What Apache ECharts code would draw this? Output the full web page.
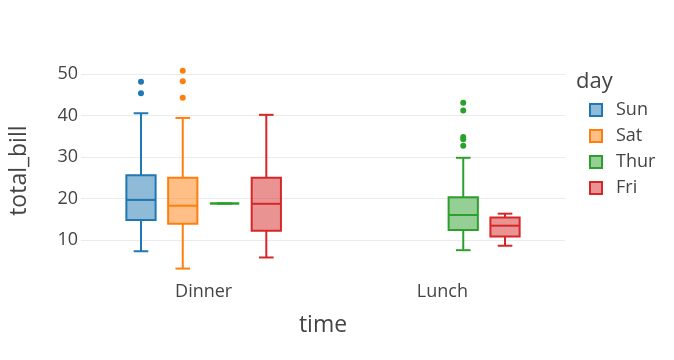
<!DOCTYPE html>
<html>
<head>
<meta charset="utf-8">
<script src="https://cdn.jsdelivr.net/npm/echarts@6/dist/echarts.min.js"></script>
<style>
html,body{margin:0;padding:0;background:#fff;}
#chart{width:674px;height:360px;}
</style>
</head>
<body>
<div id="chart"></div>
<script>
// ---- data ----
const categories = ['Dinner', 'Lunch'];
const days = ['Sun', 'Sat', 'Thur', 'Fri'];
const dayColors = ['#1f77b4', '#ff7f0e', '#2ca02c', '#d62728'];
const dayFills = ['rgba(31,119,180,0.5)', 'rgba(255,127,14,0.5)', 'rgba(44,160,44,0.5)', 'rgba(214,39,40,0.5)'];
// box stats per category: [min, q1, median, q3, max] (null = no data)
const sunBoxes = [[7.25, 14.8, 19.63, 25.6, 40.55], null];
const satBoxes = [[3.07, 13.9, 18.24, 25.0, 39.42], null];
const thurBoxes = [[18.78, 18.78, 18.78, 18.78, 18.78], [7.51, 12.4, 16.0, 20.3, 29.8]];
const friBoxes = [[5.75, 12.2, 18.7, 25.0, 40.17], [8.58, 10.8, 13.42, 15.4, 16.32]];
// outliers per category
const sunOutliers = [[48.17, 45.35], []];
const satOutliers = [[50.81, 48.27, 44.3], []];
const thurOutliers = [[], [43.11, 41.19, 34.83, 34.3, 32.68]];
const friOutliers = [[], []];
const yTicks = [10, 20, 30, 40, 50];

const allBoxes = [sunBoxes, satBoxes, thurBoxes, friBoxes];
const allOutliers = [sunOutliers, satOutliers, thurOutliers, friOutliers];

const FONT = 'Open Sans';
const TXT = '#444';
const nGroups = days.length;
const catPad = 0.0138; // extra range beyond the category bands

function slotInfo(api, di) {
  const band = api.size([1, 0])[0];
  const slot = band * 0.7 / nGroups;
  return { slot: slot, bw: slot * 0.7, off: (di - (nGroups - 1) / 2) * slot };
}

function boxRender(di) {
  return function (params, api) {
    const ci = api.value(0);
    const s = slotInfo(api, di);
    const cx = api.coord([ci, 0])[0] + s.off;
    const y = [1, 2, 3, 4, 5].map(k => api.coord([ci, api.value(k)])[1]);
    const half = s.bw / 2, cap = s.bw / 4;
    const ls = { stroke: dayColors[di], lineWidth: 2, fill: null };
    return {
      type: 'group',
      children: [
        { type: 'line', shape: { x1: cx, y1: y[1], x2: cx, y2: y[0] }, style: ls },
        { type: 'line', shape: { x1: cx, y1: y[3], x2: cx, y2: y[4] }, style: ls },
        { type: 'line', shape: { x1: cx - cap, y1: y[0], x2: cx + cap, y2: y[0] }, style: ls },
        { type: 'line', shape: { x1: cx - cap, y1: y[4], x2: cx + cap, y2: y[4] }, style: ls },
        { type: 'rect', shape: { x: cx - half, y: y[3], width: s.bw, height: y[1] - y[3] },
          style: { fill: dayFills[di], stroke: dayColors[di], lineWidth: 2 } },
        { type: 'line', shape: { x1: cx - half, y1: y[2], x2: cx + half, y2: y[2] }, style: ls }
      ]
    };
  };
}

function outlierRender(di) {
  return function (params, api) {
    const ci = api.value(0);
    const s = slotInfo(api, di);
    const p = api.coord([ci, api.value(1)]);
    return { type: 'circle', shape: { cx: p[0] + s.off, cy: p[1], r: 3 }, style: { fill: dayColors[di] } };
  };
}

const series = [];
days.forEach(function (d, di) {
  const boxData = [];
  allBoxes[di].forEach(function (b, ci) { if (b) boxData.push([ci].concat(b)); });
  const outData = [];
  allOutliers[di].forEach(function (arr, ci) { arr.forEach(function (v) { outData.push([ci, v]); }); });
  series.push({
    name: d, type: 'custom', renderItem: boxRender(di), data: boxData,
    encode: { x: 0, y: [1, 2, 3, 4, 5] }, itemStyle: { color: dayColors[di] }, z: 3
  });
  series.push({
    name: d, type: 'custom', renderItem: outlierRender(di), data: outData,
    encode: { x: 0, y: 1 }, itemStyle: { color: dayColors[di] }, z: 4
  });
});

const catIdx = categories.map(function (c, i) { return i; });

const chart = echarts.init(document.getElementById('chart'), null, { renderer: 'canvas' });
chart.setOption({
  animation: false,
  backgroundColor: '#fff',
  textStyle: { fontFamily: FONT, color: TXT },
  title: {
    text: 'day', left: 576, top: 71, padding: 0,
    textStyle: { fontFamily: FONT, fontSize: 22, fontWeight: 'normal', color: TXT }
  },
  legend: {
    orient: 'vertical', left: 589, top: 100, padding: 0, itemWidth: 12, itemHeight: 12, itemGap: 6,
    textStyle: { fontFamily: FONT, fontSize: 18, color: TXT, lineHeight: 20, padding: [0, 0, 0, 9] },
    data: days.map(function (d, i) {
      return { name: d, icon: 'rect', itemStyle: { color: dayFills[i], borderColor: dayColors[i], borderWidth: 2 } };
    })
  },
  grid: { left: 80, right: 109, top: 60, height: 221.3, containLabel: false },
  xAxis: {
    type: 'value', min: -0.5 - catPad, max: categories.length - 0.5 + catPad,
    axisLine: { show: false }, axisTick: { show: false }, splitLine: { show: false },
    axisLabel: {
      customValues: catIdx,
      fontFamily: FONT, fontSize: 18, color: TXT, margin: 2,
      formatter: function (v) { return categories[Math.round(v)] || ''; }
    },
    name: 'time', nameLocation: 'middle', nameGap: 33,
    nameTextStyle: { fontFamily: FONT, fontSize: 23, color: TXT }
  },
  yAxis: {
    type: 'value', min: 0, max: 53.4, interval: 10,
    axisLine: { show: false }, axisTick: { show: false },
    axisLabel: {
      fontFamily: FONT, fontSize: 18, color: TXT, margin: 3, showMinLabel: false, showMaxLabel: false,
      formatter: function (v) { return yTicks.indexOf(v) >= 0 ? String(v) : ''; }
    },
    splitLine: { show: true, showMinLine: false, showMaxLine: false, lineStyle: { color: '#ebebeb', width: 1 } },
    name: 'total_bill', nameLocation: 'middle', nameGap: 50, nameRotate: 90,
    nameTextStyle: { fontFamily: FONT, fontSize: 23, color: TXT }
  },
  series: series
});
</script>
</body>
</html>
